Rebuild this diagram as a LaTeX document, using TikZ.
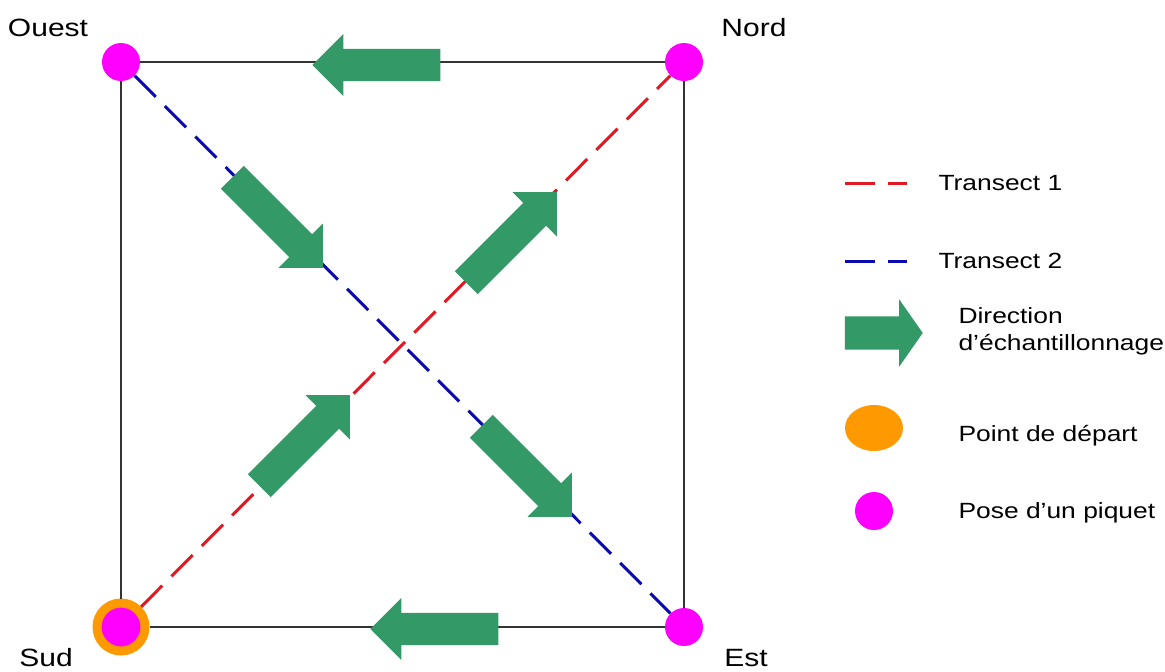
\documentclass[tikz,border=0pt]{standalone}
\usepackage{fontspec}
\setmainfont{Liberation Sans}[FakeStretch=1.2]
\usepackage{xcolor}
\usetikzlibrary{shapes.arrows, shapes.geometric, positioning}

\definecolor{piquet}{RGB}{255,0,255}
\definecolor{depart}{RGB}{255,153,0}
\definecolor{vert}{RGB}{51,153,102}
\definecolor{rouge}{RGB}{225,25,35}
\definecolor{bleu}{RGB}{10,10,175}

\begin{document}
\begin{tikzpicture}[
    x=1pt, y=-1pt,
    piq/.style={circle, fill=piquet, minimum size=38pt, inner sep=0pt},
    piqdep/.style={circle, fill=piquet, draw=depart, line width=9pt, minimum size=48pt, inner sep=0pt},
    bord/.style={draw=black!80, line width=1.5pt},
    transect/.style={line width=3pt, dash pattern=on 30pt off 13pt},
    sens/.style={single arrow, anchor=tip, fill=vert, inner sep=0pt, inner ysep=16pt, minimum height=128pt, single arrow head extend=15pt, single arrow tip angle=90},
    lbl/.style={font=\fontsize{25}{30}\selectfont},
    leg/.style={anchor=west, font=\fontsize{22}{27}\selectfont},
]
\useasboundingbox (0,0) rectangle (1165,672);

% Corners
\node[piq] (ouest) at (121,62) {};
\node[piq] (nord) at (684,62) {};
\node[piq] (est) at (684,627) {};
\node[piqdep] (sud) at (121,627) {};

% Square
\draw[bord] (ouest) -- (nord) -- (est) -- (sud) -- (ouest);

% Transects
\draw[transect, rouge] (sud) -- (nord);
\draw[transect, bleu] (ouest) -- (est);

% Arrows (placed by their tips)
\node[sens, rotate=180] (haut) at (312,65) {};
\node[sens, rotate=180] (bas) at (370,629) {};
\node[sens, rotate=-45] (se1) at (323,268) {};
\node[sens, rotate=-45] (se2) at (572,517) {};
\node[sens, rotate=45] (ne1) at (350,395) {};
\node[sens, rotate=45] (ne2) at (557,192) {};

% Corner labels
\node[lbl] (l-ouest) at (48,28) {Ouest};
\node[lbl] (l-nord) at (754,28) {Nord};
\node[lbl] (l-sud) at (46,658) {Sud};
\node[lbl] (l-est) at (746,658) {Est};

% Legend
\coordinate (t1a) at (845,183);
\coordinate (t1b) at (907,183);
\draw[transect, rouge] (t1a) -- (t1b);
\node[leg] (l-t1) at (935,183) {Transect 1};

\coordinate (t2a) at (845,261);
\coordinate (t2b) at (907,261);
\draw[transect, bleu] (t2a) -- (t2b);
\node[leg] (l-t2) at (935,261) {Transect 2};

\node[sens, minimum height=78pt, inner ysep=16.5pt, single arrow head extend=17pt, single arrow tip angle=110] (leg-sens) at (923,333) {};
\node[leg, align=left] (l-sens) at (955,331) {Direction\\d'échantillonnage};

\node[ellipse, fill=depart, minimum width=58pt, minimum height=46pt, inner sep=0pt] (leg-dep) at (874,428) {};
\node[leg] (l-dep) at (955,436) {Point de départ};

\node[piq] (leg-piq) at (874,511) {};
\node[leg] (l-piq) at (955,513) {Pose d'un piquet};

\end{tikzpicture}
\end{document}
